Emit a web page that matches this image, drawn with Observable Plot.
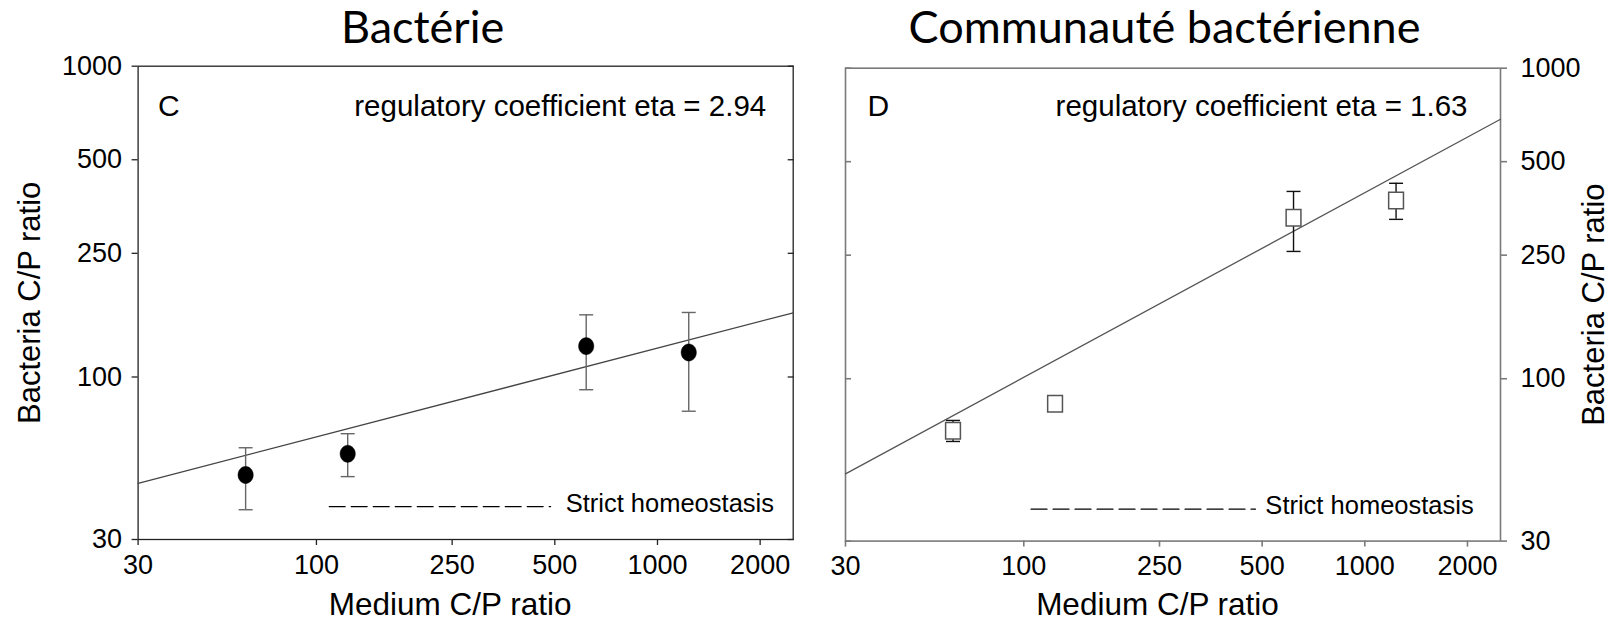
<!DOCTYPE html>
<html>
<head>
<meta charset="utf-8">
<script src="https://cdn.jsdelivr.net/npm/d3@7"></script>
<script src="https://cdn.jsdelivr.net/npm/@observablehq/plot@0.6"></script>
<style>
  html, body { margin: 0; padding: 0; background: #fff; }
  #chart { position: relative; width: 1613px; height: 623px; overflow: hidden; }
  #chart > svg { position: absolute; top: 0; }
</style>
</head>
<body>
<div id="chart"></div>
<script>
// ---------- data ----------
const xTicks = [30, 100, 250, 500, 1000, 2000];
const yTicks = [30, 100, 250, 500, 1000];
const xDomain = [30, 2500];
const yDomain = [30, 1000];

const titles = ["Bactérie", "Communauté bactérienne"];
const panelLetters = ["C", "D"];
const etaLabels = ["regulatory coefficient eta = 2.94", "regulatory coefficient eta = 1.63"];
const xLabel = "Medium C/P ratio";
const yLabel = "Bacteria C/P ratio";
const legendLabel = "Strict homeostasis";

const mediumCP = [62, 123.5, 618, 1235];

// panel C (single bacterium)
const cellCP = [48.4, 56.6, 125.7, 119.9];
const cellLow = [37.4, 47.8, 91.0, 77.6];
const cellHigh = [59.2, 65.7, 158.5, 161.3];
const cellFitX = [30, 2500];
const cellFitY = [45.5, 160.9];
const cellLegendX = [109, 486];
const cellLegendY = 38.3;
const cellLegendTextX = 538;

// panel D (bacterial community)
const commCP = [68.0, 83.1, 330, 375];
const commLow = [62.8, 81.5, 257, 326];
const commHigh = [73.4, 84.5, 401, 426];
const commFitX = [30, 2500];
const commFitY = [49.4, 685];
const commLegendX = [105, 478];
const commLegendY = 38.0;
const commLegendTextX = 511;

// ---------- symbols ----------
const capSymbol = {
  draw(ctx, size) { const r = Math.sqrt(size / Math.PI); ctx.moveTo(-r, 0); ctx.lineTo(r, 0); }
};
const rectSymbol = {
  draw(ctx, size) { const r = Math.sqrt(size / Math.PI); ctx.rect(-r, -r * 1.12, 2 * r, 2.24 * r); }
};
const ellipseSymbol = {
  draw(ctx, size) {
    const r = Math.sqrt(size / Math.PI), k = 1.12, n = 48;
    for (let i = 0; i <= n; i++) {
      const a = (i / n) * 2 * Math.PI;
      const px = r * Math.cos(a), py = r * k * Math.sin(a);
      if (i === 0) ctx.moveTo(px, py); else ctx.lineTo(px, py);
    }
    ctx.closePath();
  }
};

const sans = "'Liberation Sans', Arial, sans-serif";
const titleFont = "Lato, 'Open Sans', sans-serif";

function panel(o) {
  const pts = mediumCP.map((x, i) => ({x, y: o.ys[i], lo: o.lo[i], hi: o.hi[i]}));
  const fit = o.fitX.map((x, i) => ({x, y: o.fitY[i]}));
  const legend = o.legX.map(x => ({x, y: o.legY}));
  const fc = o.frameColor;
  return Plot.plot({
    width: o.width, height: 623,
    marginLeft: o.ml, marginRight: o.mr, marginTop: o.mt, marginBottom: o.mb,
    x: {type: "log", domain: xDomain, axis: null},
    y: {type: "log", domain: yDomain, axis: null},
    style: {fontFamily: sans, fontSize: "27px", background: "transparent", overflow: "visible", color: "#000"},
    marks: [
      Plot.frame({stroke: fc, strokeWidth: o.frameWidth}),
      // main y axis (labelled)
      Plot.axisY({ticks: yTicks, anchor: o.yAnchor, tickSize: 6, tickPadding: o.yAnchor === "left" ? 10 : 14,
        tickFormat: d => String(d), label: null, fontSize: 27, stroke: fc, fill: "#000", strokeWidth: o.frameWidth}),
      // inner ticks on opposite side
      Plot.axisY({ticks: yTicks, anchor: o.yAnchor === "left" ? "right" : "left", tickSize: -6,
        tickFormat: () => "", label: null, stroke: fc, strokeWidth: o.frameWidth}),
      Plot.axisX({ticks: xTicks, anchor: "bottom", tickSize: 6, tickPadding: 9,
        tickFormat: d => String(d), label: null, fontSize: 27, stroke: fc, fill: "#000", strokeWidth: o.frameWidth}),
      // regression line
      Plot.line(fit, {x: "x", y: "y", stroke: o.fitColor, strokeWidth: 1.3}),
      // error bars
      Plot.ruleX(pts, {x: "x", y1: "lo", y2: "hi", stroke: o.errColor, strokeWidth: 1.4}),
      Plot.dot(pts, {x: "x", y: "hi", symbol: capSymbol, r: 7, stroke: o.errColor, strokeWidth: 1.4, fill: "none"}),
      Plot.dot(pts, {x: "x", y: "lo", symbol: capSymbol, r: 7, stroke: o.errColor, strokeWidth: 1.4, fill: "none"}),
      // points
      o.filled
        ? Plot.dot(pts, {x: "x", y: "y", r: 7.6, symbol: ellipseSymbol, fill: "#000", stroke: "#000", strokeWidth: 0.5})
        : Plot.dot(pts, {x: "x", y: "y", r: 7.4, symbol: rectSymbol, fill: "#fff", stroke: "#555", strokeWidth: 1.5}),
      // legend
      Plot.line(legend, {x: "x", y: "y", stroke: "#000", strokeWidth: 1.2, strokeDasharray: "16,6"}),
      Plot.text([legendLabel], {x: o.legTextX, y: o.legY, text: d => d, textAnchor: "start",
        lineAnchor: "middle", dy: -3, fontSize: 25.5, fill: "#000"}),
      // panel texts
      Plot.text([o.letter], {frameAnchor: "top-left", text: d => d, textAnchor: "start", lineAnchor: "bottom",
        dx: o.letterDx, dy: o.textDy, fontSize: 30, fill: "#000"}),
      Plot.text([o.eta], {frameAnchor: "top-right", text: d => d, textAnchor: "end", lineAnchor: "bottom",
        dx: o.etaDx, dy: o.textDy, fontSize: 29.5, fill: "#000"}),
      // axis titles
      Plot.text([xLabel], {frameAnchor: "bottom", text: d => d, textAnchor: "middle", lineAnchor: "bottom",
        dx: -15.5, dy: o.xLabelDy, fontSize: 31.5, fill: "#000"}),
      Plot.text([yLabel], {frameAnchor: o.yAnchor, text: d => d, rotate: -90, textAnchor: "middle", lineAnchor: "middle",
        dx: o.yLabelDx, fontSize: 31, fill: "#000"}),
      // panel title
      Plot.text([o.title], {frameAnchor: "top", text: d => d, textAnchor: "middle", lineAnchor: "bottom",
        dx: o.titleDx, dy: o.titleDy, fontSize: 45, fontFamily: titleFont, fill: "#000"})
    ]
  });
}

const left = panel({
  width: 806, ml: 137.6, mr: 13.3, mt: 65.7, mb: 84,
  ys: cellCP, lo: cellLow, hi: cellHigh, fitX: cellFitX, fitY: cellFitY,
  legX: cellLegendX, legY: cellLegendY, legTextX: cellLegendTextX,
  frameColor: "#222", frameWidth: 1.3, fitColor: "#444", errColor: "#666", filled: true,
  yAnchor: "left", letter: panelLetters[0], eta: etaLabels[0], letterDx: 20, etaDx: -27, textDy: 50,
  xLabelDy: 75, yLabelDx: -107.6, title: titles[0], titleDx: -43, titleDy: -23
});
left.style.left = "0px";

const right = panel({
  width: 807, ml: 39, mr: 113, mt: 67.7, mb: 82.4,
  ys: commCP, lo: commLow, hi: commHigh, fitX: commFitX, fitY: commFitY,
  legX: commLegendX, legY: commLegendY, legTextX: commLegendTextX,
  frameColor: "#7a7a7a", frameWidth: 1.6, fitColor: "#555", errColor: "#111", filled: false,
  yAnchor: "right", letter: panelLetters[1], eta: etaLabels[1], letterDx: 22, etaDx: -33, textDy: 48,
  xLabelDy: 73.4, yLabelDx: 94, title: titles[1], titleDx: -8.5, titleDy: -25
});
right.style.left = "806px";

document.getElementById("chart").append(left, right);
</script>
</body>
</html>
